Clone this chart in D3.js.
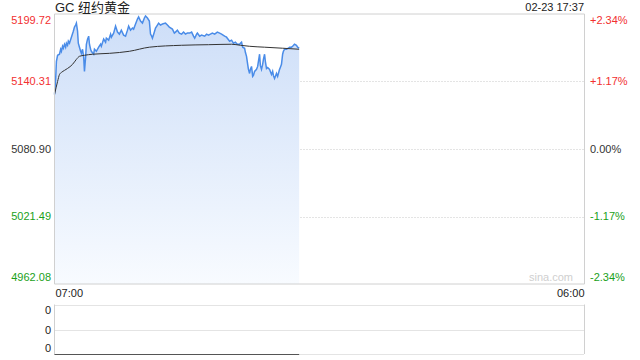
<!DOCTYPE html>
<html><head><meta charset="utf-8">
<script src="https://cdn.jsdelivr.net/npm/d3@7"></script>
<style>html,body{margin:0;padding:0;background:#fff;}svg{display:block;font-family:"Liberation Sans",Arial,"Noto Sans CJK SC",sans-serif;}</style>
</head><body><svg id="c" width="640" height="360"></svg>
<script>
const title = "GC 纽约黄金";
const stamp = "02-23 17:37";
const prevClose = 5080.90;
const priceTicks = [5199.72, 5140.31, 5080.90, 5021.49, 4962.08];
const pctLabels = ["+2.34%", "+1.17%", "0.00%", "-1.17%", "-2.34%"];
const timeLabels = ["07:00", "06:00"];
const sessionMinutes = 1380; // 07:00 -> 06:00
// minutes after 07:00 and price
const tMin = [0,3,5,8,13,16,18,21,23,26,29,31,34,36,39,44,49,52,55,57,60,62,65,68,70,73,76,78,81,83,86,89,91,94,96,102,104,109,115,120,122,128,133,135,141,146,148,154,159,164,169,174,180,185,190,193,198,203,206,211,216,219,224,229,234,237,242,247,250,253,255,260,263,268,271,276,281,289,294,299,307,312,315,320,325,331,336,341,346,352,357,362,365,370,372,378,383,391,396,401,406,411,417,424,430,435,443,448,450,456,461,466,471,476,482,484,487,490,495,497,500,503,505,508,510,513,516,518,521,526,529,531,534,536,539,542,544,547,549,552,555,560,562,565,568,570,573,576,578,581,586,588,591,594,596,599,604,609,612,617,620,625,630,633,637];
const price = [5128.8,5142.1,5158.1,5163.4,5164.3,5168.7,5166.9,5171.3,5169.6,5173.1,5170.5,5174.0,5172.2,5175.8,5174.0,5179.3,5184.6,5188.2,5190.0,5191.7,5184.6,5174.0,5170.5,5166.9,5165.1,5168.7,5161.6,5149.2,5161.6,5173.1,5177.6,5180.2,5173.1,5168.7,5166.9,5164.3,5168.7,5166.9,5170.5,5173.1,5171.3,5177.6,5174.9,5178.4,5176.7,5182.0,5179.3,5182.9,5189.1,5183.8,5182.0,5185.5,5181.1,5180.2,5185.5,5189.1,5185.5,5187.3,5186.4,5190.9,5195.3,5197.1,5193.5,5191.7,5196.2,5198.0,5196.2,5193.5,5182.0,5180.2,5178.4,5183.8,5187.3,5190.0,5191.7,5190.0,5190.9,5191.7,5190.0,5188.2,5186.4,5182.9,5183.8,5185.5,5182.9,5182.0,5183.8,5182.0,5182.9,5182.9,5183.8,5180.2,5178.4,5182.0,5182.9,5180.2,5181.1,5180.2,5182.0,5181.1,5182.0,5182.9,5182.0,5183.8,5182.9,5182.0,5180.2,5179.3,5178.4,5175.8,5176.7,5174.0,5174.9,5173.1,5173.1,5174.0,5174.9,5170.5,5169.6,5166.0,5162.5,5155.4,5151.0,5147.4,5151.0,5153.6,5144.8,5145.6,5149.2,5151.0,5153.6,5158.1,5164.3,5154.5,5151.0,5155.4,5159.8,5164.3,5158.1,5151.8,5152.7,5151.0,5149.2,5146.5,5149.2,5145.6,5143.0,5145.6,5147.4,5144.8,5151.0,5152.7,5155.4,5164.3,5166.9,5168.7,5168.7,5169.6,5170.5,5170.5,5171.3,5173.1,5172.2,5170.5,5169.6];
const avgMin = [0,8,13,18,26,34,47,57,65,78,99,143,195,247,331,401,461,484,508,547,594,637];
const avgPrice = [5128.8,5140.3,5146.5,5148.3,5150.1,5151.8,5155.4,5159.8,5162.5,5163.4,5164.3,5165.1,5166.9,5170.5,5172.2,5172.7,5173.1,5172.2,5171.3,5170.5,5169.6,5168.7];
const volMin = [0, 637];
const volume = [0, 0];
const volTickLabels = ["0", "0", "0"];

const svg = d3.select("#c");
const L = 54.5, R = 584.5, T = 14, B = 284;
const VT = 304.5, VB = 354;
const x = d3.scaleLinear().domain([0, sessionMinutes]).range([L, R]);
const y = d3.scaleLinear().domain([priceTicks[4], priceTicks[0]]).range([B, T]);
const yv = d3.scaleLinear().domain([0, 1]).range([VB, VT]);

const defs = svg.append("defs");
const grad = defs.append("linearGradient").attr("id","g").attr("x1",0).attr("y1",0).attr("x2",0).attr("y2",1);
grad.append("stop").attr("offset","0%").attr("stop-color","#cddef8");
grad.append("stop").attr("offset","100%").attr("stop-color","#f8fbff");

// gridlines
svg.append("g").selectAll("line").data(priceTicks.slice(1,4)).join("line")
  .attr("x1", L).attr("x2", R).attr("y1", d => Math.round(y(d))+0.5).attr("y2", d => Math.round(y(d))+0.5)
  .attr("stroke", "#c8c8c8").attr("stroke-dasharray", "1,2");

// area + line
const pts = tMin.map((t,i) => [t, price[i]]);
svg.append("path").datum(pts)
  .attr("d", d3.area().x(d => x(d[0])).y0(B).y1(d => y(d[1])))
  .attr("fill", "url(#g)");
svg.append("path").datum(pts)
  .attr("d", d3.line().x(d => x(d[0])).y(d => y(d[1])))
  .attr("fill", "none").attr("stroke", "#4a8ce8").attr("stroke-width", 1.5);
svg.append("path").datum(avgMin.map((t,i)=>[t, avgPrice[i]]))
  .attr("d", d3.line().curve(d3.curveMonotoneX).x(d => x(d[0])).y(d => y(d[1])))
  .attr("fill", "none").attr("stroke", "#333").attr("stroke-width", 1);

// frame
svg.append("path").attr("d", `M${L},${B}V${T}H${R}V${B}H${L}`).attr("fill","none").attr("stroke","#d0d0d0");

// left axis labels
const colorFor = (v) => v > prevClose ? "#f23030" : (v < prevClose ? "#1aa11a" : "#333");
const labY = (d,i) => i===0 ? y(d)+6 : (i===4 ? y(d)-7 : y(d));
svg.append("g").selectAll("text").data(priceTicks).join("text")
  .attr("x", 51).attr("y", labY).attr("dy", "0.35em").attr("text-anchor","end")
  .attr("font-size", 11).attr("fill", colorFor).text(d => d.toFixed(2));
svg.append("g").selectAll("text").data(pctLabels).join("text")
  .attr("x", 590).attr("y", (d,i) => labY(priceTicks[i], i)).attr("dy","0.35em")
  .attr("font-size", 11).attr("fill", (d,i) => colorFor(priceTicks[i])).text(d => d);

// title / stamp
svg.append("text").attr("x", 55).attr("y", 12).attr("font-size", 13).attr("fill","#222").text(title);
svg.append("text").attr("x", 584).attr("y", 11).attr("text-anchor","end").attr("font-size", 11).attr("fill","#222").text(stamp);
svg.append("text").attr("x", 573).attr("y", 281).attr("text-anchor","end").attr("font-size", 11).attr("fill","#cfcfcf").text("sina.com");

// time labels
svg.append("text").attr("x", x(0)+1).attr("y", 297).attr("font-size", 11).attr("fill","#222").text(timeLabels[0]);
svg.append("text").attr("x", x(sessionMinutes)).attr("y", 297).attr("text-anchor","end").attr("font-size", 11).attr("fill","#222").text(timeLabels[1]);

// volume panel
[VT, (VT+VB)/2 + 0.25, VB].forEach(v => {
  svg.append("line").attr("x1", L).attr("x2", R).attr("y1", Math.round(v)+0.5).attr("y2", Math.round(v)+0.5)
    .attr("stroke", "#c8c8c8").attr("stroke-dasharray", "1,1");
});
svg.append("line").attr("x1", L).attr("x2", L).attr("y1", VT).attr("y2", VB).attr("stroke", "#d0d0d0");
svg.append("line").attr("x1", R).attr("x2", R).attr("y1", VT).attr("y2", VB).attr("stroke", "#d0d0d0");
svg.append("path").datum(volMin.map((t,i)=>[t, volume[i]]))
  .attr("d", d3.line().x(d => x(d[0])).y(d => Math.round(yv(d[1]))+0.5))
  .attr("stroke", "#555").attr("fill","none");
const volY = [310, 330, 348];
svg.append("g").selectAll("text").data(volTickLabels).join("text")
  .attr("x", 51).attr("y", (d,i) => volY[i]).attr("dy","0.35em").attr("text-anchor","end")
  .attr("font-size", 11).attr("fill", "#222").text(d => d);
</script></body></html>
